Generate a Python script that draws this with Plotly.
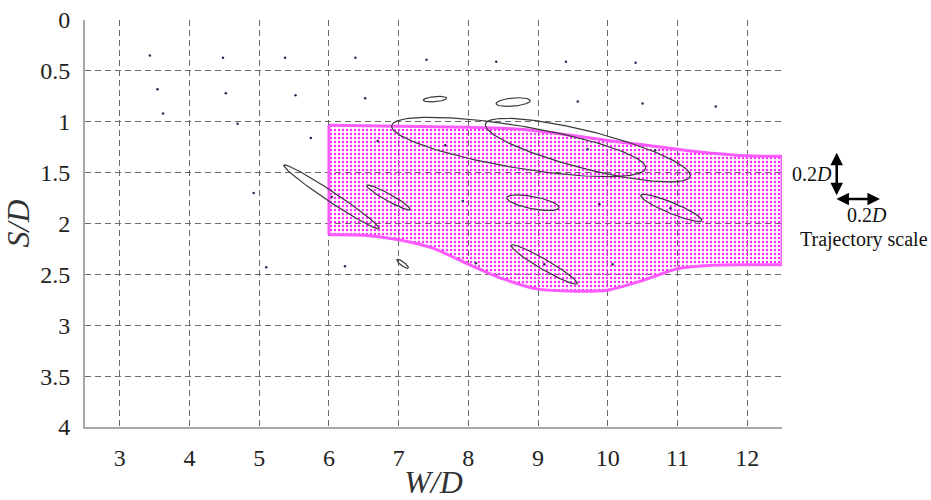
import numpy as np
import plotly.graph_objects as go

# Axis ticks
x_ticks = [3, 4, 5, 6, 7, 8, 9, 10, 11, 12]
y_ticks = [0, 0.5, 1, 1.5, 2, 2.5, 3, 3.5, 4]
y_tick_text = ["0", "0.5", "1", "1.5", "2", "2.5", "3", "3.5", "4"]

# Shaded zone: upper and lower edges (W/D, S/D)
zone_top_x = [6.0, 6.5, 7.0, 7.5, 8.0, 8.5, 9.0, 9.5, 10.0, 10.5, 11.0, 11.5, 12.0, 12.5]
zone_top_y = [1.035, 1.04, 1.045, 1.05, 1.055, 1.065, 1.09, 1.135, 1.185, 1.227, 1.27, 1.31, 1.335, 1.34]
zone_bot_x = [6.0, 6.5, 7.0, 7.5, 8.0, 8.5, 9.0, 9.5, 10.0, 10.5, 11.0, 11.5, 12.0, 12.5]
zone_bot_y = [2.11, 2.115, 2.16, 2.245, 2.40, 2.545, 2.645, 2.665, 2.655, 2.56, 2.445, 2.41, 2.405, 2.405]

# Trajectory ellipses: centre and the two conjugate half-axis vectors
ell_cx = [6.036, 6.854, 7.056, 7.521, 8.643, 8.722, 9.713, 8.927, 10.912, 9.089]
ell_cy = [1.738, 1.744, 2.396, 0.778, 0.807, 1.248, 1.279, 1.796, 1.847, 2.403]
ell_ux = [0.683, 0.312, 0.082, 0.168, 0.245, 1.822, 1.468, 0.374, 0.4365, 0.475]
ell_uy = [0.311, 0.1185, 0.041, -0.010, -0.015, 0.209, 0.256, 0.049, 0.1235, 0.189]
ell_vx = [-0.040, -0.024, -0.014, 0.0, 0.003, -0.050, -0.066, -0.017, -0.030, -0.036]
ell_vy = [0.041, 0.030, 0.017, 0.025, 0.040, 0.204, 0.179, 0.059, 0.049, 0.043]

# Near-stationary points (trajectories too small to resolve)
dot_x = [3.43, 4.48, 5.37, 6.38, 7.40, 8.40, 9.40, 10.40,
         3.54, 4.52, 5.52, 6.52, 9.57, 10.50, 11.55,
         3.62, 4.69, 5.74, 4.92, 5.10, 6.23,
         6.70, 7.67, 6.04, 7.92, 9.71, 10.68, 9.88, 10.90, 9.09, 10.07, 8.11]
dot_y = [0.35, 0.37, 0.37, 0.37, 0.39, 0.41, 0.41, 0.42,
         0.68, 0.72, 0.74, 0.77, 0.80, 0.82, 0.85,
         0.92, 1.02, 1.16, 1.70, 2.43, 2.42,
         1.19, 1.23, 1.74, 1.78, 1.27, 1.28, 1.81, 1.85, 2.40, 2.40, 2.39]

fig = go.Figure()

edge_color = "#ff5cff"
edge_line = dict(color=edge_color, width=3, shape="spline", smoothing=0.7)

# Shaded zone: upper edge, then lower edge filled up to it with a dotted pattern
fig.add_trace(go.Scatter(
    x=zone_top_x, y=zone_top_y, mode="lines", line=edge_line,
    hoverinfo="skip", showlegend=False,
))
fig.add_trace(go.Scatter(
    x=zone_bot_x, y=zone_bot_y, mode="lines", line=edge_line,
    fill="tonexty", fillcolor="rgba(0,0,0,0)",
    fillpattern=dict(shape=".", fgcolor="#ff22ff", bgcolor="rgba(0,0,0,0)",
                     size=4, solidity=0.28, fillmode="replace"),
    hoverinfo="skip", showlegend=False,
))
# Straight ends of the zone
for i in (0, -1):
    fig.add_trace(go.Scatter(
        x=[zone_top_x[i], zone_bot_x[i]], y=[zone_top_y[i], zone_bot_y[i]],
        mode="lines", line=dict(color=edge_color, width=3),
        hoverinfo="skip", showlegend=False,
    ))

# Ellipse outlines
t = np.linspace(0, 2 * np.pi, 160)
ex, ey = [], []
for cx, cy, ux, uy, vx, vy in zip(ell_cx, ell_cy, ell_ux, ell_uy, ell_vx, ell_vy):
    ex += list(cx + ux * np.cos(t) + vx * np.sin(t)) + [None]
    ey += list(cy + uy * np.cos(t) + vy * np.sin(t)) + [None]
fig.add_trace(go.Scatter(
    x=ex, y=ey, mode="lines", line=dict(color="#3a3a3a", width=1.2),
    hoverinfo="skip", showlegend=False,
))

fig.add_trace(go.Scatter(
    x=dot_x, y=dot_y, mode="markers",
    marker=dict(size=2.5, color="#2a2a55"),
    hoverinfo="skip", showlegend=False,
))

serif = "Liberation Serif, Times New Roman, serif"
grid_style = dict(showgrid=True, gridcolor="#6a6a6a", gridwidth=1, griddash="6px,4px",
                  zeroline=False, showline=True, linecolor="#a8a8a8", linewidth=2,
                  ticks="", tickfont=dict(family=serif, size=24, color="#222"),
                  ticklabelstandoff=8, automargin=False)

fig.update_xaxes(range=[2.5, 12.5], tickvals=x_ticks, **grid_style,
                 title=dict(text="<i>W/D</i>", font=dict(family=serif, size=32, color="#333"),
                            standoff=4))
fig.update_yaxes(range=[4, 0], tickvals=y_ticks, ticktext=y_tick_text, **grid_style,
                 title=dict(text="<i>S/D</i>", font=dict(family=serif, size=32, color="#333"),
                            standoff=4))

# Trajectory scale legend
arrow = dict(xref="paper", yref="paper", axref="pixel", ayref="pixel", text="",
             showarrow=True, arrowhead=2, arrowsize=1, arrowwidth=2.5,
             arrowcolor="#000", arrowside="end+start")
fig.add_annotation(x=1.0785, y=0.674, ax=0, ay=44, **arrow)
fig.add_annotation(x=1.1405, y=0.560, ax=-45, ay=0, **arrow)
label = dict(showarrow=False, xref="paper", yref="paper",
             xanchor="center", yanchor="middle", borderpad=0,
             font=dict(family=serif, size=20, color="#111"))
fig.add_annotation(x=1.043, y=0.622, text="0.2<i>D</i>", **label)
fig.add_annotation(x=1.122, y=0.521, text="0.2<i>D</i>", **label)
fig.add_annotation(x=1.117, y=0.461, text="Trajectory scale", **label)

fig.update_layout(
    width=931, height=500,
    margin=dict(l=85, r=149, t=20, b=73),
    paper_bgcolor="white", plot_bgcolor="white",
    showlegend=False,
)

fig.write_html("out.html")
